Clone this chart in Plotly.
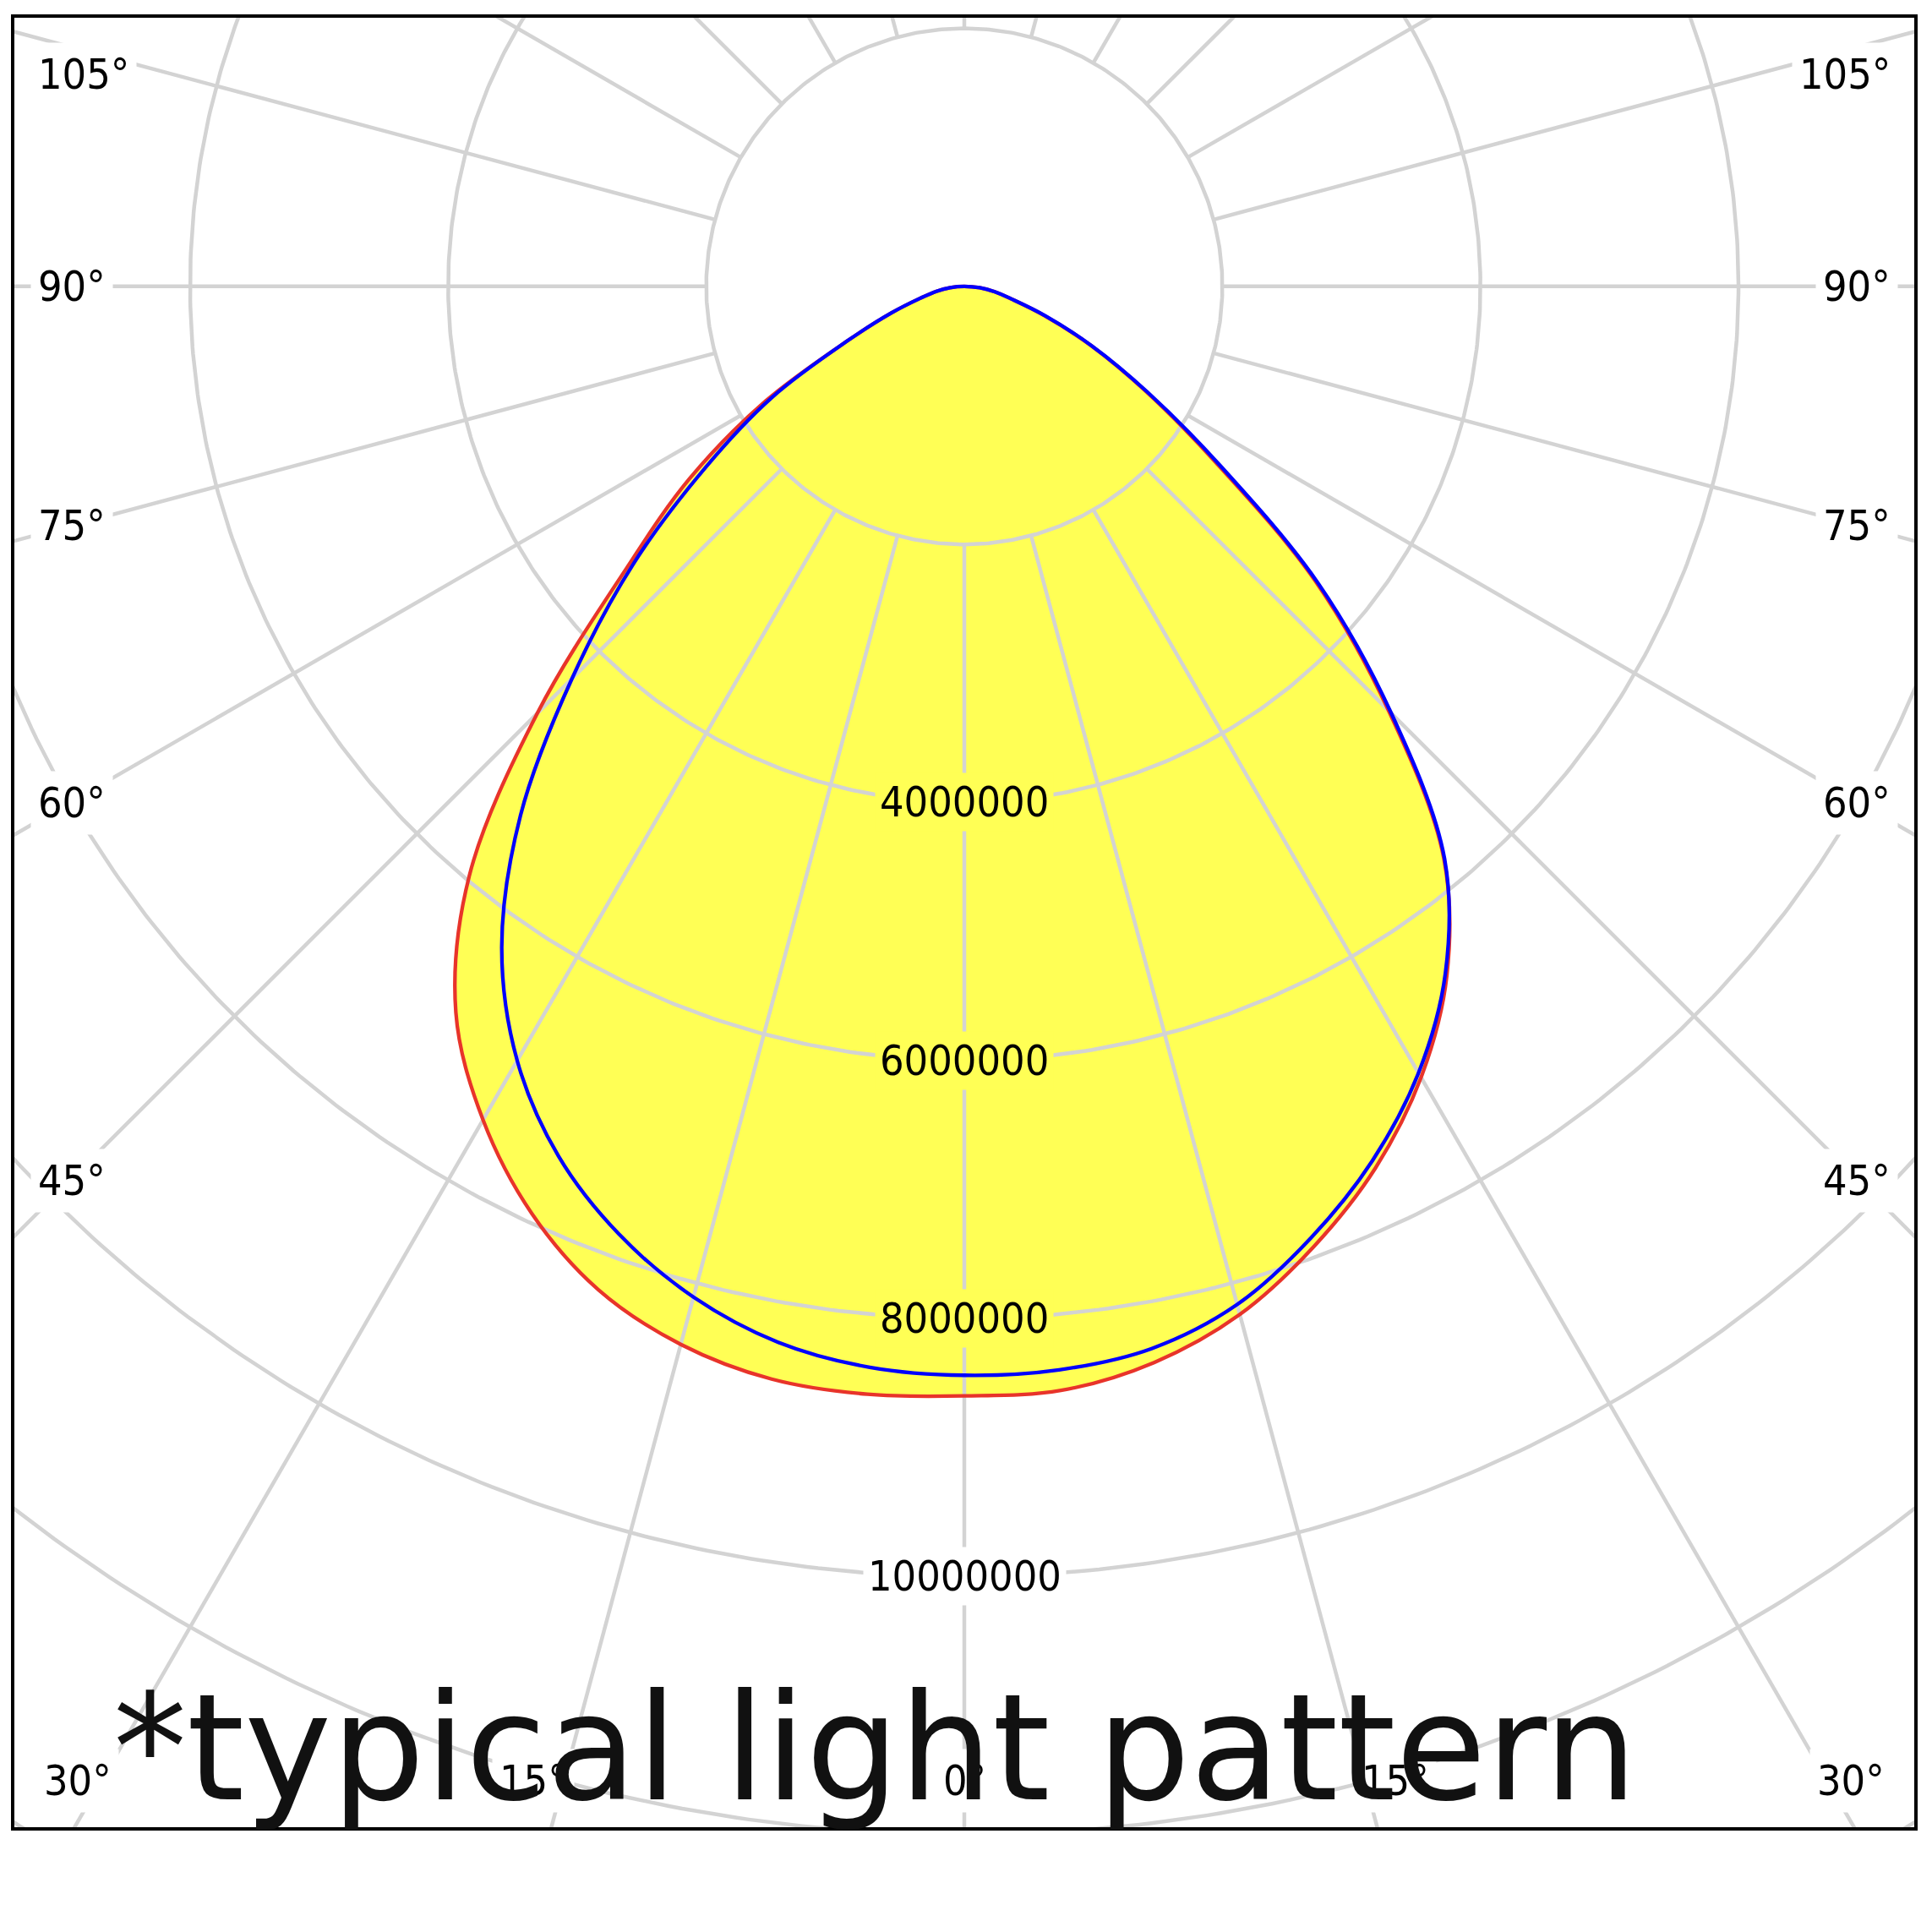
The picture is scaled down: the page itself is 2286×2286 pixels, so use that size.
import numpy as np
import plotly.graph_objects as go

# ---------------- data (luminous intensity) ----------------
gamma_deg = [0, 5, 10, 15, 20, 25, 30, 35, 40, 45, 50, 55, 60, 65, 70, 75, 80, 85, 90]

# red curve (C0 / C180 plane)
red_left = [8.60e6, 8.62e6, 8.60e6, 8.49e6, 8.28e6, 7.93e6, 7.46e6, 6.87e6, 5.97e6, 4.68e6,
            3.44e6, 2.60e6, 1.78e6, 1.00e6, 0.60e6, 0.35e6, 0.22e6, 0.11e6, 0.0]
red_right = [8.60e6, 8.59e6, 8.47e6, 8.25e6, 7.92e6, 7.54e6, 7.08e6, 6.52e6, 5.78e6, 4.65e6,
             3.55e6, 2.38e6, 1.62e6, 1.08e6, 0.66e6, 0.38e6, 0.24e6, 0.12e6, 0.0]
# blue curve (C90 / C270 plane)
blue_left = [8.44e6, 8.41e6, 8.31e6, 8.11e6, 7.82e6, 7.44e6, 6.93e6, 6.25e6, 5.35e6, 4.30e6,
             3.35e6, 2.45e6, 1.72e6, 1.00e6, 0.60e6, 0.35e6, 0.22e6, 0.11e6, 0.0]
blue_right = [8.44e6, 8.43e6, 8.36e6, 8.17e6, 7.85e6, 7.48e6, 7.04e6, 6.50e6, 5.79e6, 4.68e6,
              3.58e6, 2.42e6, 1.64e6, 1.09e6, 0.67e6, 0.38e6, 0.24e6, 0.12e6, 0.0]

ring_values = [2e6, 4e6, 6e6, 8e6, 10e6, 12e6, 14e6]
ring_label_values = [4e6, 6e6, 8e6, 10e6]
ring_label_text = ["4000000", "6000000", "8000000", "10000000"]
spoke_angles = list(range(0, 360, 15))
angle_label_values = [105, 90, 75, 60, 45, 30, 15, 0]

title_text = "*typical light pattern"

# ---------------- view ----------------
X_RANGE = [-7.362e6, 7.362e6]
Y_RANGE = [-11.943e6, 2.082e6]
GRID_INNER = 2e6
GRID_OUTER = 20e6

YELLOW = "#FFFF55"
RED = "#E8342A"
BLUE = "#0000FF"
GRID = "#D3D3D3"
LABEL_FONT = "DejaVu Sans Condensed, DejaVu Sans, sans-serif"
SMOOTH = 1.0


def half(values, side):
    g = np.radians(gamma_deg)
    r = np.asarray(values)
    return side * r * np.sin(g), -r * np.cos(g)


def outline(left_vals, right_vals):
    xr, yr = half(right_vals, 1)
    xl, yl = half(left_vals, -1)
    # start at the apex, go down the right side, up the left side
    x = np.concatenate([xr[::-1], xl[1:]])
    y = np.concatenate([yr[::-1], yl[1:]])
    return x, y


fig = go.Figure()

# yellow fill
fx, fy = outline(red_left, red_right)
fig.add_trace(go.Scatter(x=fx, y=fy, mode="lines", fill="toself", fillcolor=YELLOW,
                         line=dict(width=0, color=YELLOW, shape="spline", smoothing=SMOOTH),
                         hoverinfo="skip", showlegend=False))

# grid rings
t = np.radians(np.linspace(0, 360, 721))
for rv in ring_values:
    fig.add_trace(go.Scatter(x=rv * np.sin(t), y=rv * np.cos(t), mode="lines",
                             line=dict(color=GRID, width=4.5), hoverinfo="skip", showlegend=False))

# grid spokes
sx, sy = [], []
for a in spoke_angles:
    ar = np.radians(a)
    sx += [GRID_INNER * np.sin(ar), GRID_OUTER * np.sin(ar), None]
    sy += [-GRID_INNER * np.cos(ar), -GRID_OUTER * np.cos(ar), None]
fig.add_trace(go.Scatter(x=sx, y=sy, mode="lines", line=dict(color=GRID, width=4.5),
                         hoverinfo="skip", showlegend=False))

# curves
rx, ry = outline(red_left, red_right)
fig.add_trace(go.Scatter(x=rx, y=ry, mode="lines",
                         line=dict(color=RED, width=4.3, shape="spline", smoothing=SMOOTH),
                         hoverinfo="skip", showlegend=False))
bx, by = outline(blue_left, blue_right)
fig.add_trace(go.Scatter(x=bx, y=by, mode="lines",
                         line=dict(color=BLUE, width=4.3, shape="spline", smoothing=SMOOTH),
                         hoverinfo="skip", showlegend=False))

annotations = []

# angle labels
SIDE_D = 6.93e6
SIDE_X = 7.24e6
TOP_Y = 1.64e6
BOTTOM_Y = -11.58e6
BOTTOM_REF = 12.47e6
BOTTOM_XMAX = 6.87e6
for a in angle_label_values:
    ar = np.radians(a)
    txt = f"{a}°"
    if a == 0:
        positions = [(0.0, BOTTOM_Y, "center")]
    else:
        y_side = -SIDE_D * np.cos(ar) / np.sin(ar)
        if y_side < BOTTOM_Y:
            xb = min(BOTTOM_REF * np.tan(ar), BOTTOM_XMAX)
            positions = [(-xb, BOTTOM_Y, "center"), (xb, BOTTOM_Y, "center")]
        else:
            yy = min(y_side, TOP_Y)
            positions = [(-SIDE_X, yy, "left"), (SIDE_X, yy, "right")]
    for (px, py, anc) in positions:
        annotations.append(dict(x=px, y=py, xref="x", yref="y", text=txt, showarrow=False,
                                xanchor=anc, yanchor="middle", bgcolor="white", borderpad=8,
                                font=dict(family=LABEL_FONT, size=50, color="black")))

# ring labels
for v, txt in zip(ring_label_values, ring_label_text):
    inside = v <= 8e6
    annotations.append(dict(x=0, y=-v, xref="x", yref="y", text=txt, showarrow=False,
                            xanchor="center", yanchor="middle",
                            bgcolor=YELLOW if inside else "white", borderpad=5,
                            font=dict(family=LABEL_FONT, size=50, color="black")))

# big caption
annotations.append(dict(x=0.051, y=0.0435, xref="paper", yref="paper", text=title_text,
                        showarrow=False, xanchor="left", yanchor="middle",
                        font=dict(family="DejaVu Sans, Verdana, sans-serif", size=174,
                                  color="#111111")))

# the page body adds an 8 px margin; the figure is sized so the plot frame sits where it should
fig.update_layout(
    width=2270, height=2270,
    margin=dict(l=9, r=9, t=9, b=116),
    paper_bgcolor="white", plot_bgcolor="white",
    showlegend=False,
    annotations=annotations,
    xaxis=dict(range=X_RANGE, showgrid=False, zeroline=False, showticklabels=False, ticks="",
               showline=True, mirror=True, linecolor="black", linewidth=4, fixedrange=True),
    yaxis=dict(range=Y_RANGE, showgrid=False, zeroline=False, showticklabels=False, ticks="",
               showline=True, mirror=True, linecolor="black", linewidth=4, fixedrange=True),
)

fig.write_html("out.html")
